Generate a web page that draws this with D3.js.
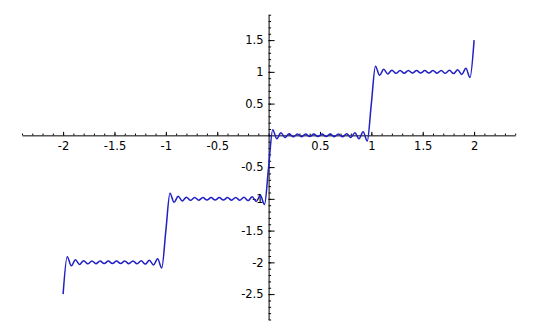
<!DOCTYPE html>
<html>
<head>
<meta charset="utf-8">
<script src="https://cdn.jsdelivr.net/npm/d3@7"></script>
<style>
  body { margin: 0; background: #fff; }
  svg { display: block; }
  text { font-family: "DejaVu Sans", sans-serif; }
</style>
</head>
<body>
<script>
// tick values and labels
const xTicks = [-2, -1.5, -1, -0.5, 0.5, 1, 1.5, 2];
const xTickLabels = ["-2", "-1.5", "-1", "-0.5", "0.5", "1", "1.5", "2"];
const yTicks = [1.5, 1, 0.5, -0.5, -1, -1.5, -2, -2.5];
const yTickLabels = ["1.5", "1", "0.5", "-0.5", "-1", "-1.5", "-2", "-2.5"];

// curve, one array per step (peaks and troughs of the ripple)
const stepMinus2 = [
  [-2, -2.5], [-1.96, -1.91], [-1.92, -2.055], [-1.88, -1.96], [-1.84, -2.032],
  [-1.80, -1.973], [-1.76, -2.024], [-1.72, -1.978], [-1.68, -2.021], [-1.64, -1.98],
  [-1.60, -2.02], [-1.56, -1.98], [-1.52, -2.02], [-1.48, -1.98], [-1.44, -2.02],
  [-1.40, -1.98], [-1.36, -2.021], [-1.32, -1.978], [-1.28, -2.022], [-1.24, -1.976],
  [-1.20, -2.027], [-1.16, -1.968], [-1.12, -2.04], [-1.08, -1.945], [-1.04, -2.09]
];
const stepMinus1 = [
  [-1, -1.5], [-0.96, -0.91], [-0.92, -1.055], [-0.88, -0.96], [-0.84, -1.032],
  [-0.80, -0.973], [-0.76, -1.024], [-0.72, -0.978], [-0.68, -1.021], [-0.64, -0.98],
  [-0.60, -1.02], [-0.56, -0.98], [-0.52, -1.02], [-0.48, -0.98], [-0.44, -1.02],
  [-0.40, -0.98], [-0.36, -1.021], [-0.32, -0.978], [-0.28, -1.022], [-0.24, -0.976],
  [-0.20, -1.027], [-0.16, -0.968], [-0.12, -1.04], [-0.08, -0.945], [-0.04, -1.09]
];
const stepZero = [
  [0, -0.5], [0.04, 0.09], [0.08, -0.055], [0.12, 0.04], [0.16, -0.032],
  [0.20, 0.027], [0.24, -0.024], [0.28, 0.022], [0.32, -0.021], [0.36, 0.02],
  [0.40, -0.02], [0.44, 0.02], [0.48, -0.02], [0.52, 0.02], [0.56, -0.02],
  [0.60, 0.02], [0.64, -0.021], [0.68, 0.022], [0.72, -0.024], [0.76, 0.027],
  [0.80, -0.032], [0.84, 0.04], [0.88, -0.055], [0.92, 0.055], [0.96, -0.09]
];
const stepOne = [
  [1, 0.5], [1.04, 1.09], [1.08, 0.945], [1.12, 1.04], [1.16, 0.968],
  [1.20, 1.027], [1.24, 0.976], [1.28, 1.022], [1.32, 0.978], [1.36, 1.021],
  [1.40, 0.98], [1.44, 1.02], [1.48, 0.98], [1.52, 1.02], [1.56, 0.98],
  [1.60, 1.02], [1.64, 0.979], [1.68, 1.022], [1.72, 0.976], [1.76, 1.024],
  [1.80, 0.973], [1.84, 1.032], [1.88, 0.96], [1.92, 1.055], [1.96, 0.91],
  [2, 1.5]
];

const width = 540, height = 333;

const svg = d3.select("body").append("svg")
    .attr("width", width)
    .attr("height", height);

const x = d3.scaleLinear().domain([-2.4, 2.4]).range([22, 515.2]);
const y = d3.scaleLinear().domain([-2.9, 1.9]).range([319.5, 14.7]);

const minorX = d3.range(-24, 25).map(d => d / 10);
const minorY = d3.range(-29, 20).map(d => d / 10);

// x axis: minor ticks, then major ticks with labels
svg.append("g")
    .attr("transform", `translate(0,${y(0)})`)
    .call(d3.axisBottom(x).tickValues(minorX).tickSizeInner(-1.8).tickSizeOuter(0).tickFormat(""))
    .call(g => g.selectAll("text").remove());

svg.append("g")
    .attr("transform", `translate(0,${y(0)})`)
    .call(d3.axisBottom(x)
        .tickValues(xTicks)
        .tickSizeInner(-3.5)
        .tickSizeOuter(0)
        .tickPadding(6.5)
        .tickFormat((d, i) => xTickLabels[i]))
    .call(g => g.select(".domain").remove())
    .call(g => g.selectAll("text").attr("font-size", 11.5).attr("font-family", "DejaVu Sans").attr("fill", "#000"));

// y axis
svg.append("g")
    .attr("transform", `translate(${x(0)},0)`)
    .call(d3.axisLeft(y).tickValues(minorY).tickSizeInner(-2.5).tickSizeOuter(0).tickFormat(""))
    .call(g => g.selectAll("text").remove());

svg.append("g")
    .attr("transform", `translate(${x(0)},0)`)
    .call(d3.axisLeft(y)
        .tickValues(yTicks)
        .tickSizeInner(-6)
        .tickSizeOuter(0)
        .tickPadding(5)
        .tickFormat((d, i) => yTickLabels[i]))
    .call(g => g.select(".domain").remove())
    .call(g => g.selectAll("text").attr("font-size", 11.5).attr("font-family", "DejaVu Sans").attr("fill", "#000"));

svg.selectAll(".domain, .tick line").attr("stroke", "#000").attr("stroke-width", 1);

// the step curve
const points = stepMinus2.concat(stepMinus1, stepZero, stepOne);

const line = d3.line()
    .x(d => x(d[0]))
    .y(d => y(d[1]))
    .curve(d3.curveMonotoneX);

svg.append("path")
    .datum(points)
    .attr("fill", "none")
    .attr("stroke", "#2020c4")
    .attr("stroke-width", 1.5)
    .attr("d", line);
</script>
</body>
</html>
